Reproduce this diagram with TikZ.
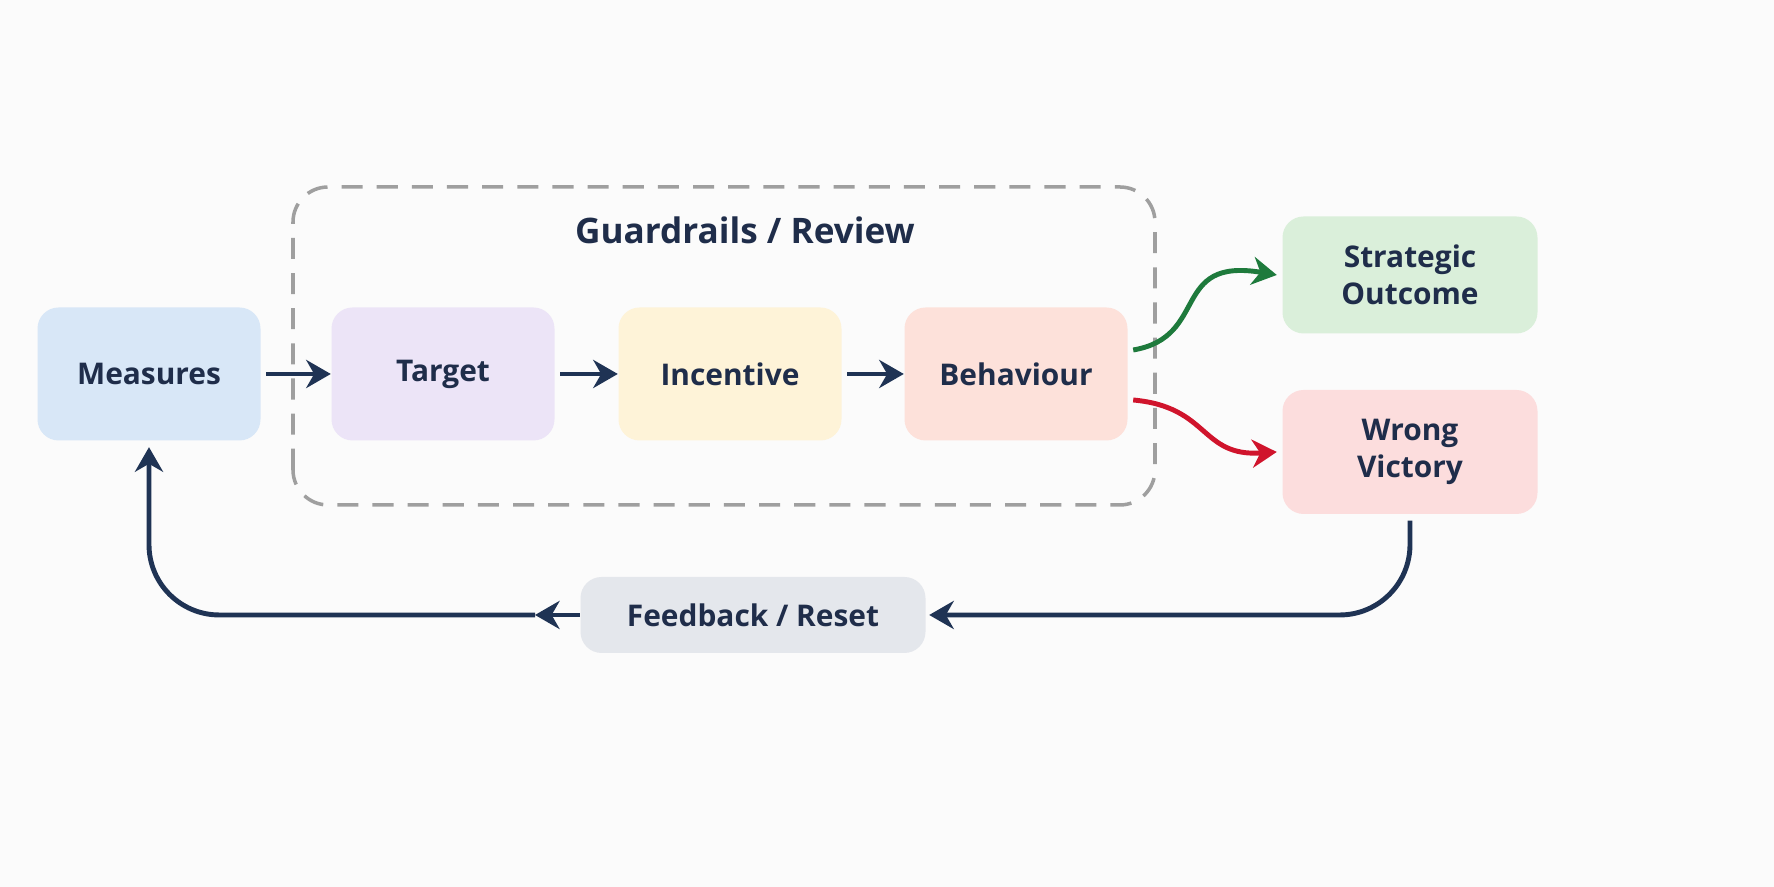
\documentclass[tikz,border=0pt]{standalone}
\usepackage{fontspec}
\setmainfont{Open Sans}
\usetikzlibrary{arrows.meta}
\definecolor{ink}{HTML}{1F2D4A}
\definecolor{line}{HTML}{1F3354}
\definecolor{cblue}{HTML}{D8E7F7}
\definecolor{clav}{HTML}{ECE4F7}
\definecolor{cyel}{HTML}{FEF3D8}
\definecolor{cpeach}{HTML}{FDE1DA}
\definecolor{cgreen}{HTML}{DAEFDA}
\definecolor{cred}{HTML}{FCDDDD}
\definecolor{cgrey}{HTML}{E4E7EC}
\definecolor{agreen}{HTML}{1E7A3C}
\definecolor{ared}{HTML}{D0142C}
\begin{document}
\begin{tikzpicture}[
    font=\fontsize{8.5}{10.5}\selectfont\bfseries,
    stage/.style={
      rounded corners=6pt,
      text=ink,
      align=center,
      minimum width=2.23cm,
      minimum height=1.33cm
    },
    flow/.style={
      line width=1.4pt,
      draw=line,
      -{Stealth[length=7pt,width=8pt]}
    }
  ]
  \fill[white!97!gray] (0,0) rectangle (17.74,8.87);

  \draw[line width=1pt,gray!75,dash pattern=on 6pt off 4pt,rounded corners=10pt]
    (2.93,3.82) rectangle (11.55,7.00);
  \node (title) at (7.45,6.57) [text=ink,font=\fontsize{10}{12}\selectfont\bfseries]{Guardrails / Review};

  \node (ms) at (1.49,5.13) [stage,fill=cblue]{Measures};
  \node (tg) at (4.43,5.13) [stage,fill=clav]{Target};
  \node (ic) at (7.30,5.13) [stage,fill=cyel]{Incentive};
  \node (bh) at (10.16,5.13) [stage,fill=cpeach]{Behaviour};
  \node (so) at (14.10,6.12) [stage,fill=cgreen,minimum width=2.55cm,minimum height=1.17cm]{Strategic\\Outcome};
  \node (wv) at (14.10,4.35) [stage,fill=cred,minimum width=2.55cm,minimum height=1.24cm]{Wrong\\Victory};
  \node (fb) at (7.53,2.72) [stage,fill=cgrey,minimum width=3.45cm,minimum height=0.76cm]{Feedback / Reset};

  \coordinate (mid) at (5.35,2.72);

  \draw[flow] ([xshift=0.05cm]ms.east) -- (tg.west);
  \draw[flow] ([xshift=0.05cm]tg.east) -- (ic.west);
  \draw[flow] ([xshift=0.05cm]ic.east) -- (bh.west);

  \draw[flow,draw=agreen] ([xshift=0.05cm,yshift=0.24cm]bh.east)
    .. controls (12.1,5.5) and (11.7,6.3) .. ([xshift=-0.05cm]so.west);
  \draw[flow,draw=ared] ([xshift=0.05cm,yshift=-0.26cm]bh.east)
    .. controls (12.1,4.8) and (12.0,4.3) .. ([xshift=-0.05cm]wv.west);

  \draw[flow,rounded corners=20pt] ([yshift=-0.06cm]wv.south) |- ([xshift=0.03cm]fb.east);
  \draw[flow] (fb.west) -- (mid);
  \draw[flow,rounded corners=20pt] (mid) -| ([yshift=-0.06cm]ms.south);

  \pgfresetboundingbox
  \path[use as bounding box] (0,0) rectangle (17.74,8.87);
\end{tikzpicture}
\end{document}
